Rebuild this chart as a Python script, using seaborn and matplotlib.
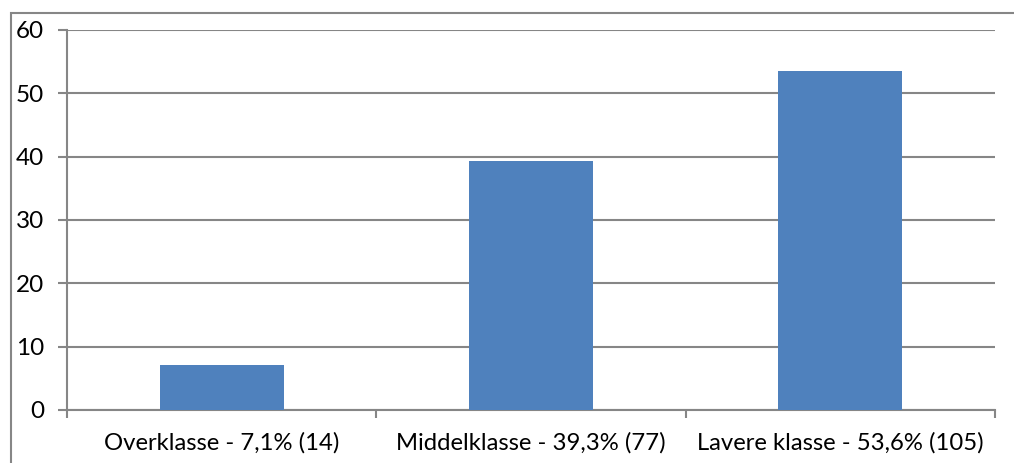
import matplotlib
matplotlib.use("Agg")
import matplotlib.pyplot as plt
from matplotlib.patches import Rectangle
from matplotlib.ticker import FixedLocator
import seaborn as sns
import pandas as pd

categories = ["Overklasse - 7,1% (14)", "Middelklasse - 39,3% (77)", "Lavere klasse - 53,6% (105)"]
values = [7.1, 39.3, 53.6]
y_ticks = [0, 10, 20, 30, 40, 50, 60]

sns.set_style("white")
plt.rcParams["font.family"] = ["Lato", "DejaVu Sans"]

grey = "#868686"
bar_color = "#4F81BD"

fig = plt.figure(figsize=(10.14, 4.63), dpi=100)
ax = fig.add_axes([67 / 1014, 1 - 410 / 463, (995 - 67) / 1014, (410 - 30) / 463])

df = pd.DataFrame({"cat": categories, "val": values})
sns.barplot(data=df, x="cat", y="val", color=bar_color, width=0.4,
            saturation=1, linewidth=0, ax=ax, zorder=3)

ax.set_xlim(-0.5, 2.5)
ax.set_ylim(0, 60)
ax.set_yticks(y_ticks)
ax.set_xlabel("")
ax.set_ylabel("")

ax.yaxis.grid(True, color=grey, linewidth=1.5, zorder=0)
ax.set_axisbelow(True)

for side in ("top", "right"):
    ax.spines[side].set_visible(False)
for side in ("left", "bottom"):
    ax.spines[side].set_color(grey)
    ax.spines[side].set_linewidth(1.5)

ax.tick_params(axis="y", direction="out", length=6.5, width=1.5, color=grey,
               labelsize=17.5, pad=10, left=True, labelcolor="black")
ax.tick_params(axis="x", which="major", length=0, labelsize=17.2, pad=16,
               labelcolor="black")
ax.xaxis.set_minor_locator(FixedLocator([-0.5, 0.5, 1.5, 2.5]))
ax.tick_params(axis="x", which="minor", direction="out", length=6, width=1.5,
               color=grey, bottom=True)

# outer chart frame
fig.patches.append(Rectangle((11 / 1014, -0.1), 1.2, 1 - 13 / 463 + 0.1,
                             transform=fig.transFigure, fill=False,
                             edgecolor=grey, linewidth=1.5, zorder=0))

fig.savefig("out.png", dpi=100)
